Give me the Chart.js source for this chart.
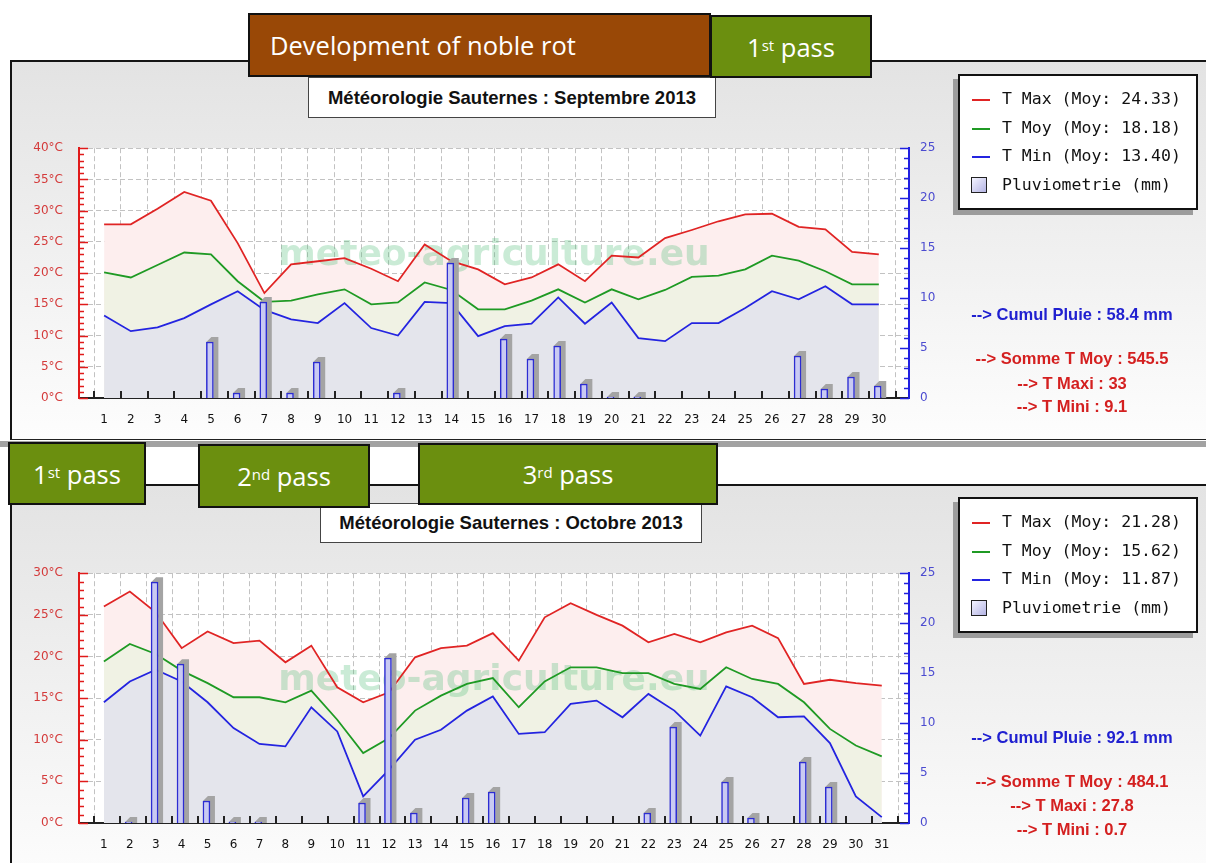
<!DOCTYPE html>
<html>
<head>
<meta charset="utf-8">
<script src="https://cdn.jsdelivr.net/npm/chart.js@4.4.0/dist/chart.umd.min.js"></script>
<style>
  body { margin: 0; width: 1206px; height: 863px; overflow: hidden; background: #fff; position: relative; font-family: "Liberation Sans", Arial, sans-serif; }
  .panel { position: absolute; left: 10px; width: 1200px; border-top: 2px solid #151515; border-left: 2px solid #151515; background: linear-gradient(#e3e3e3, #fdfdfd); }
  .band { position: absolute; left: 0; width: 1206px; top: 441px; height: 6px; background: #a2a2a2; }
  canvas { position: absolute; z-index: 1; }
  .title { position: absolute; z-index: 2; box-sizing: border-box; background: #fff; border: 1px solid #444; font-weight: bold; font-size: 18.5px; color: #111; display: flex; align-items: center; justify-content: center; }
  .tag { position: absolute; z-index: 3; box-sizing: border-box; border: 2px solid #111; color: #fff; font-family: "Open Sans", sans-serif; font-size: 25.5px; display: flex; align-items: center; justify-content: center; }
  .tag sup { font-size: 15px; position: relative; top: -2px; }
  .legend { position: absolute; z-index: 2; width: 236px; height: 123px; padding-top: 9px; background: #fff; border: 2px solid #111; box-shadow: -5px 5px 0 #9c9c9c; font-family: "DejaVu Sans Mono", monospace; font-size: 16.5px; color: #111; }
  .row { position: relative; height: 28.7px; line-height: 28.7px; padding-left: 42px; white-space: pre; }
  .ln { position: absolute; left: 12px; top: 14px; width: 18px; height: 2px; }
  .sq { position: absolute; left: 11px; top: 6px; width: 14px; height: 14px; border: 1.5px solid #222; background: linear-gradient(135deg, #f4f4ff, #b4b4e4); }
  .stat { position: absolute; z-index: 2; left: 952px; width: 240px; text-align: center; font-weight: bold; font-size: 16.5px; line-height: 20px; }
</style>
</head>
<body>
<div class="panel" style="top:60px;height:377px;border-bottom:1.5px solid #222;"></div>
<div class="band"></div>
<div class="panel" style="top:484px;height:400px;"></div>

<canvas id="sep" width="945" height="305" style="left:10px;top:125px"></canvas>
<canvas id="oct" width="945" height="305" style="left:10px;top:550px"></canvas>

<div class="title" style="left:308px;top:77px;width:408px;height:41px">Météorologie Sauternes : Septembre 2013</div>
<div class="title" style="left:320px;top:503px;width:382px;height:40px">Météorologie Sauternes : Octobre 2013</div>

<div class="tag" style="left:248px;top:13px;width:463px;height:64px;background:#994806;justify-content:flex-start;padding-left:20px">Development of noble rot</div>
<div class="tag" style="left:710px;top:15px;width:162px;height:63px;background:#6b8f0f">1<sup>st</sup>&nbsp;pass</div>
<div class="tag" style="left:8px;top:442px;width:138px;height:63px;background:#6b8f0f">1<sup>st</sup>&nbsp;pass</div>
<div class="tag" style="left:198px;top:444px;width:172px;height:64px;background:#6b8f0f">2<sup>nd</sup>&nbsp;pass</div>
<div class="tag" style="left:418px;top:443px;width:300px;height:62px;background:#6b8f0f">3<sup>rd</sup>&nbsp;pass</div>

<div id="side"></div>

<script>
// ---- data ----
const daysSep = [1,2,3,4,5,6,7,8,9,10,11,12,13,14,15,16,17,18,19,20,21,22,23,24,25,26,27,28,29,30];
const tmaxSep = [27.8,27.8,30.3,33.0,31.6,24.8,16.8,21.4,21.9,22.4,20.7,18.7,24.6,21.9,20.6,18.2,19.3,21.4,18.7,22.8,22.5,25.6,26.9,28.3,29.4,29.5,27.4,27.0,23.4,23.0];
const tmoySep = [20.1,19.3,21.3,23.3,23.0,18.7,15.4,15.6,16.6,17.4,15.0,15.3,18.5,17.3,14.2,14.2,15.6,17.4,15.3,17.4,15.8,17.3,19.4,19.6,20.6,22.8,22.0,20.3,18.2,18.2];
const tminSep = [13.2,10.7,11.3,12.8,15.0,17.1,14.1,12.6,12.0,15.2,11.2,10.0,15.4,15.2,9.9,11.5,11.9,16.1,11.9,15.3,9.6,9.1,12.0,12.0,14.4,17.1,15.8,17.9,15.0,15.0];
const rainSep = [0,0,0,0,5.6,0.5,9.6,0.5,3.6,0,0,0.5,0,13.5,0,5.9,3.9,5.2,1.4,0.1,0.1,0,0,0,0,0,4.2,0.9,2.1,1.2];

const daysOct = [1,2,3,4,5,6,7,8,9,10,11,12,13,14,15,16,17,18,19,20,21,22,23,24,25,26,27,28,29,30,31];
const tmaxOct = [26.0,27.8,25.3,21.0,23.0,21.6,21.9,19.3,21.3,16.3,14.5,15.7,19.9,21.0,21.3,22.8,19.5,24.7,26.4,25.0,23.7,21.7,22.7,21.7,22.9,23.7,22.2,16.7,17.2,16.8,16.5];
const tmoyOct = [19.4,21.5,20.3,18.3,16.8,15.1,15.1,14.5,15.9,12.4,8.4,10.2,13.5,15.3,16.7,17.4,13.9,17.0,18.7,18.7,18.0,18.0,16.7,16.1,18.7,17.3,16.7,14.5,11.3,9.3,8.0];
const tminOct = [14.5,17.0,18.4,17.0,14.5,11.4,9.5,9.2,13.9,11.0,3.2,6.4,10.0,11.2,13.5,15.2,10.7,10.9,14.3,14.7,12.7,15.5,13.5,10.5,16.4,15.1,12.7,12.8,9.6,3.2,0.7];
const rainOct = [0,0.1,24.1,15.9,2.2,0.1,0.1,0,0,0,2.0,16.5,1.0,0,2.5,3.1,0,0,0,0,0,1.0,9.6,0,4.1,0.5,0,6.1,3.6,0,0];

const seriesNames = ["T Max", "T Moy", "T Min"];
const rainName = "Pluviometrie (mm)";
const moySep = ["24.33", "18.18", "13.40"];
const moyOct = ["21.28", "15.62", "11.87"];
// cumul pluie, somme T moy, T maxi, T mini
const statsSep = ["58.4", "545.5", "33", "9.1"];
const statsOct = ["92.1", "484.1", "27.8", "0.7"];

const lineColors = ["#e02424", "#1f9a24", "#2424e0"];
const fillColors = ["#fdeeee", "#f0f2e4", "#e4e5ec"];
const tickFont = { family: "DejaVu Sans", size: 12 };

// background, watermark, bar shadows, inward ticks
const decor = {
    id: "decor",
    beforeDraw(chart) {
        const { ctx, chartArea: a } = chart;
        ctx.save();
        ctx.fillStyle = "#fff";
        ctx.fillRect(a.left, a.top, a.right - a.left, a.bottom - a.top);
        ctx.restore();
    },
    beforeDatasetsDraw(chart) {
        // runs after the filler, so the watermark sits over the areas but under the lines
        const { ctx, chartArea: a } = chart;
        ctx.save();
        ctx.font = "bold 36px 'DejaVu Sans'";
        ctx.fillStyle = "rgba(80, 190, 120, 0.3)";
        ctx.textAlign = "center";
        ctx.textBaseline = "middle";
        ctx.fillText("meteo-agriculture.eu", (a.left + a.right) / 2, a.top + (a.bottom - a.top) * 0.43);
        ctx.restore();
    },
    beforeDatasetDraw(chart, args) {
        if (args.meta.type !== "bar") return;
        const ctx = chart.ctx, d = 5;
        const values = chart.data.datasets[args.index].data;
        ctx.save();
        ctx.fillStyle = "#a4a4a4";
        args.meta.data.forEach((el, i) => {
            if (!(values[i] > 0)) return;
            const { x, y, base, width } = el.getProps(["x", "y", "base", "width"], true);
            const l = x - width / 2, r = x + width / 2, t = Math.min(y, base);
            ctx.beginPath();
            ctx.moveTo(l, t);
            ctx.lineTo(l + d, t - d);
            ctx.lineTo(r + d, t - d);
            ctx.lineTo(r + d, base);
            ctx.lineTo(r, base);
            ctx.lineTo(r, t);
            ctx.closePath();
            ctx.fill();
        });
        ctx.restore();
    },
    afterDraw(chart) {
        const { ctx, chartArea: a, scales } = chart;
        const line = (x1, y1, x2, y2) => { ctx.beginPath(); ctx.moveTo(x1, y1); ctx.lineTo(x2, y2); ctx.stroke(); };
        ctx.save();
        ctx.lineWidth = 1.5;
        ctx.strokeStyle = "#e01a1a";
        for (let v = scales.yL.min; v <= scales.yL.max; v++) {
            const y = Math.round(scales.yL.getPixelForValue(v)) + 0.5;
            line(a.left, y, a.left + (v % 5 === 0 ? 9 : 5), y);
        }
        ctx.strokeStyle = "#2020e0";
        for (let v = scales.yR.min; v <= scales.yR.max; v++) {
            const y = Math.round(scales.yR.getPixelForValue(v)) + 0.5;
            line(a.right - (v % 5 === 0 ? 9 : 5), y, a.right, y);
        }
        ctx.strokeStyle = "#222";
        ctx.lineWidth = 2;
        scales.xg.ticks.forEach(t => {
            const x = Math.round(scales.xg.getPixelForValue(t.value));
            line(x, a.bottom, x, a.bottom - 7);
        });
        ctx.restore();
    }
};

function makeChart(id, days, series, rain, tempTop, xMin, xMax) {
    const gridShift = 0.37;
    const barShift = -0.09;
    const datasets = [{
        type: "bar",
        label: rainName,
        data: rain,
        xAxisID: "xb",
        yAxisID: "yR",
        order: 0,
        barThickness: 7,
        backgroundColor: "#c9caf2",
        borderColor: "#2c2cd2",
        borderWidth: 1.5
    }];
    // red drawn first (highest order), blue last, bars on top
    series.forEach((s, i) => {
        datasets.push({
            type: "line",
            label: seriesNames[i],
            data: s,
            xAxisID: "x",
            yAxisID: "yL",
            order: series.length - i,
            borderColor: lineColors[i],
            backgroundColor: fillColors[i],
            borderWidth: 1.8,
            pointRadius: 0,
            tension: 0,
            fill: "origin"
        });
    });

    return new Chart(document.getElementById(id), {
        type: "line",
        data: { labels: days, datasets },
        options: {
            responsive: false,
            animation: false,
            devicePixelRatio: 1,
            layout: { padding: { left: 7, right: 6, top: 21, bottom: 4 } },
            plugins: {
                legend: { display: false },
                tooltip: { enabled: false },
                filler: { drawTime: "beforeDatasetsDraw" }
            },
            scales: {
                x: {
                    type: "linear", min: xMin, max: xMax, offset: false,
                    afterFit: s => { s.height = 28; },
                    grid: { display: false, offset: false },
                    border: { color: "#222", width: 2 },
                    ticks: {
                        stepSize: 1, includeBounds: false, autoSkip: false, maxRotation: 0,
                        padding: 7, color: "#111", font: tickFont,
                        callback: v => (v >= 1 && v <= days.length) ? String(v) : ""
                    }
                },
                xb: {
                    type: "linear", position: "bottom", display: false, offset: false,
                    min: xMin + barShift, max: xMax + barShift
                },
                xg: {
                    type: "linear", position: "bottom", min: xMin + gridShift, max: xMax + gridShift, offset: false,
                    afterFit: s => { s.height = 0; },
                    ticks: { display: false, stepSize: 1, includeBounds: false },
                    grid: { color: "#c2c2c2", drawTicks: false },
                    border: { display: false, dash: [5, 3] }
                },
                yL: {
                    type: "linear", position: "left", min: 0, max: tempTop,
                    afterFit: s => { s.width = 62; },
                    ticks: { stepSize: 5, padding: 16, color: "#d43a3a", font: tickFont, callback: v => v + "°C" },
                    grid: { color: "#c2c2c2", drawTicks: false },
                    border: { color: "#e01a1a", width: 2, dash: [5, 3] }
                },
                yR: {
                    type: "linear", position: "right", min: 0, max: 25,
                    afterFit: s => { s.width = 40; },
                    ticks: { stepSize: 5, padding: 11, color: "#4b4bd0", font: tickFont },
                    grid: { display: false, drawTicks: false },
                    border: { color: "#2020e0", width: 2 }
                }
            }
        },
        plugins: [decor]
    });
}

makeChart("sep", daysSep, [tmaxSep, tmoySep, tminSep], rainSep, 40, 0.06, 31.13);
makeChart("oct", daysOct, [tmaxOct, tmoyOct, tminOct], rainOct, 30, 0.04, 32.05);

// legends and summary text at the right of each chart
function buildSide(top, moy, stats, statTops) {
    let html = `<div class="legend" style="left:958px;top:${top}px">`;
    seriesNames.forEach((n, i) => {
        html += `<div class="row"><span class="ln" style="background:${lineColors[i]}"></span>${n} (Moy: ${moy[i]})</div>`;
    });
    html += `<div class="row"><span class="sq"></span>${rainName}</div></div>`;
    const texts = [
        [`--&gt; Cumul Pluie : ${stats[0]} mm`, "#2020d0"],
        [`--&gt; Somme T Moy : ${stats[1]}`, "#d42020"],
        [`--&gt; T Maxi : ${stats[2]}`, "#d42020"],
        [`--&gt; T Mini : ${stats[3]}`, "#d42020"]
    ];
    texts.forEach((t, i) => {
        html += `<div class="stat" style="top:${statTops[i] - 10}px;color:${t[1]}">${t[0]}</div>`;
    });
    return html;
}
document.getElementById("side").innerHTML =
    buildSide(74, moySep, statsSep, [314, 357.5, 383, 406]) +
    buildSide(497, moyOct, statsOct, [737, 781, 805, 829]);
</script>
</body>
</html>
